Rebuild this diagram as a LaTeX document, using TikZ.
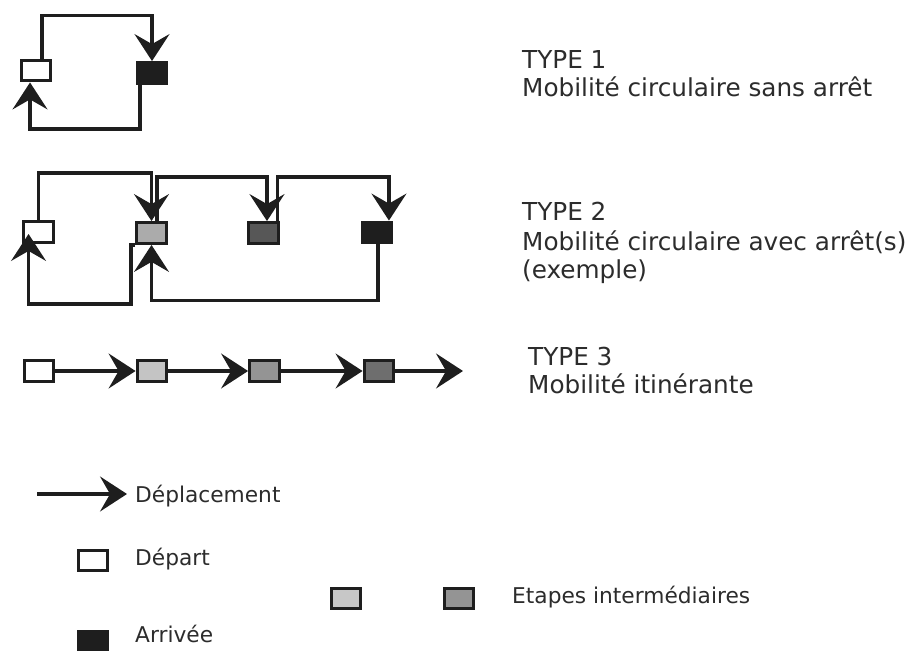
\documentclass[tikz,border=0pt]{standalone}
\usepackage{fontspec}
\setmainfont{DejaVu Sans}
\usetikzlibrary{arrows.meta}
\definecolor{ink}{HTML}{1E1E1E}
\definecolor{txt}{HTML}{2C2C2C}
\tikzset{
  box/.style={draw=ink, line width=3pt, inner sep=0pt, minimum width=30pt, minimum height=21pt},
  mv/.style={draw=ink, line width=3.2pt, -{Stealth[length=27pt, width=35pt, inset=10pt]}},
  lbl/.style={anchor=base west, inner sep=0pt, text=txt, font=\fontsize{24.8}{28}\selectfont},
  leg/.style={anchor=base west, inner sep=0pt, text=txt, font=\fontsize{21.8}{26}\selectfont},
}
\begin{document}
\begin{tikzpicture}[x=1bp, y=-1bp]
\useasboundingbox[fill=white] (0,0) rectangle (912,651);

% ---------- TYPE 1 ----------
\node[box, fill=white] (d1) at (36,70.5) {};
\node[box, fill=ink] (a1) at (152,73) {};
\draw[mv] ([xshift=6pt]d1.north) -- ++(0,-43) -| (a1.north);
\draw[mv] ([xshift=-12pt]a1.south) -- ++(0,44) -| ([xshift=-6pt]d1.south);
\node[lbl] (t1a) at (522,69) {TYPE 1};
\node[lbl] (t1b) at (522,97) {Mobilité circulaire sans arrêt};

% ---------- TYPE 2 ----------
\node[box, fill=white] (d2) at (38.5,232) {};
\node[box, fill=black!33] (l2) at (151.5,233) {};
\node[box, fill=black!66] (g2) at (263.5,233) {};
\node[box, fill=ink] (b2) at (377,232.5) {};
\draw[mv] (d2.north) -- ++(0,-47) -| (l2.north);
\draw[mv] ([xshift=5.5pt]l2.north) -- ++(0,-44) -| ([xshift=3.5pt]g2.north);
\draw[mv] ([xshift=14pt]g2.north) -- ++(0,-44) -| ([xshift=12pt]b2.north);
\draw[mv, shorten >=-10pt] (l2.south west) -- ++(-4,0) -- ++(0,59) -| ([xshift=-10pt]d2.south);
\draw[mv] ([xshift=1pt]b2.south) -- ++(0,56) -| (l2.south);
\node[lbl] (t2a) at (522,220) {TYPE 2};
\node[lbl] (t2b) at (522,250) {Mobilité circulaire avec arrêt(s)};
\node[lbl] (t2c) at (522,278) {(exemple)};

% ---------- TYPE 3 ----------
\node[box, fill=white] (d3) at (39,371) {};
\node[box, fill=black!23] (l3) at (152,371) {};
\node[box, fill=black!42] (m3) at (264.5,371) {};
\node[box, fill=black!57] (k3) at (379,371) {};
\coordinate (e3) at (463,371);
\draw[mv] (d3.east) -- (l3.west);
\draw[mv] (l3.east) -- (m3.west);
\draw[mv] (m3.east) -- (k3.west);
\draw[mv] (k3.east) -- (e3);
\node[lbl] (t3a) at (528,365) {TYPE 3};
\node[lbl] (t3b) at (528,393) {Mobilité itinérante};

% ---------- Legend ----------
\coordinate (g1) at (37,494);
\coordinate (g2) at (127,494);
\draw[mv] (g1) -- (g2);
\node[leg] (tg) at (135,502) {Déplacement};
\node[box, fill=white] (ld) at (93,560.5) {};
\node[leg] (tld) at (135,565) {Départ};
\node[box, fill=black!22] (ll) at (346,598.5) {};
\node[box, fill=black!42] (lg) at (459,598.5) {};
\node[leg] (tle) at (512,603) {Etapes intermédiaires};
\node[box, fill=ink] (lb) at (93,642) {};
\node[leg] (tlb) at (135,642) {Arrivée};
\end{tikzpicture}
\end{document}
